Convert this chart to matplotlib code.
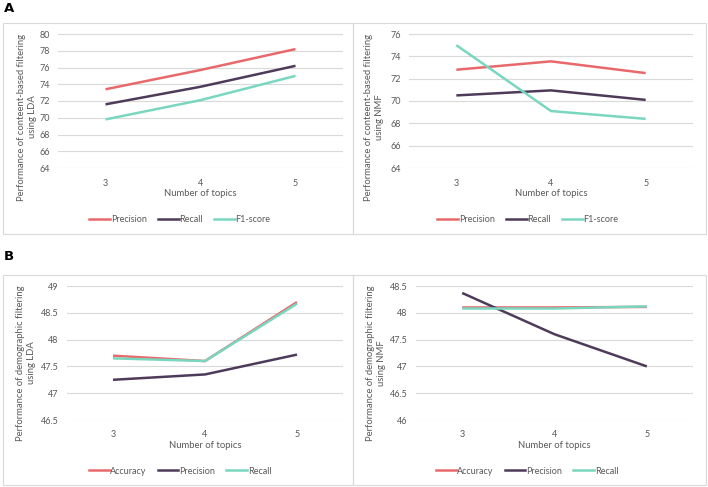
import matplotlib
matplotlib.use("Agg")
import matplotlib.pyplot as plt
from matplotlib.patches import Rectangle
from matplotlib.lines import Line2D

plt.rcParams['font.family'] = ['Lato', 'DejaVu Sans']

topics = [3, 4, 5]
tick_labels = ["3", "4", "5"]

# Panel A: content-based filtering
lda_cb_precision = [73.4, 75.7, 78.2]
lda_cb_recall = [71.6, 73.7, 76.2]
lda_cb_f1 = [69.8, 72.1, 75.0]

nmf_cb_precision = [72.8, 73.55, 72.5]
nmf_cb_recall = [70.5, 70.95, 70.1]
nmf_cb_f1 = [75.0, 69.1, 68.4]

# Panel B: demographic filtering
lda_dm_accuracy = [47.7, 47.6, 48.7]
lda_dm_precision = [47.25, 47.35, 47.72]
lda_dm_recall = [47.65, 47.6, 48.67]

nmf_dm_accuracy = [48.1, 48.1, 48.11]
nmf_dm_precision = [48.37, 47.6, 47.0]
nmf_dm_recall = [48.08, 48.08, 48.12]

RED = "#E8696B"
PURPLE = "#4E3B5A"
TEAL = "#7AD7BF"
TXT = "#595959"
GRID = "#D9D9D9"

W, H = 708, 487
fig = plt.figure(figsize=(W / 100, H / 100), dpi=100)

TICK_FS = 6.5
LAB_FS = 6.8
LEG_FS = 6.5


def px_axes(x0, y0, x1, y1):
    return fig.add_axes([x0 / W, 1 - y1 / H, (x1 - x0) / W, (y1 - y0) / H])


def box(x0, y0, x1, y1):
    fig.patches.append(Rectangle((x0 / W, 1 - y1 / H), (x1 - x0) / W, (y1 - y0) / H,
                                 transform=fig.transFigure, fill=False,
                                 edgecolor=GRID, linewidth=0.8))


def panel(ax, series, ylim, step, ylabel, fmt, ylab_dx, ylab_fy, xlab_dy, xtick_pad):
    for vals, color, name in series:
        ax.plot(topics, vals, color=color, linewidth=1.8, label=name,
                solid_capstyle='butt')
    ax.set_xlim(2.5, 5.5)
    ax.set_ylim(*ylim)
    n = int(round((ylim[1] - ylim[0]) / step))
    ticks = [ylim[0] + i * step for i in range(n + 1)]
    ax.set_yticks(ticks)
    ax.set_yticklabels([fmt(t) for t in ticks])
    ax.set_xticks(topics)
    ax.set_xticklabels(tick_labels)
    ax.grid(axis='y', color=GRID, linewidth=0.8)
    ax.set_axisbelow(True)
    for s in ax.spines.values():
        s.set_visible(False)
    ax.tick_params(length=0, labelsize=TICK_FS, colors=TXT, pad=6)
    ax.tick_params(axis='x', pad=xtick_pad)
    bb = ax.get_position()
    wpx = bb.width * W
    hpx = bb.height * H
    ax.set_xlabel("Number of topics", fontsize=LAB_FS, color=TXT)
    ax.xaxis.label.set_va('center')
    ax.xaxis.set_label_coords(0.5, -xlab_dy / hpx)
    ax.set_ylabel(ylabel, fontsize=LAB_FS, color=TXT, linespacing=1.15)
    ax.yaxis.label.set_va('center')
    ax.yaxis.set_label_coords(-ylab_dx / wpx, ylab_fy)


def legend(cx, cy, entries):
    handles = [Line2D([], [], color=c, linewidth=1.8) for _, c in entries]
    fig.legend(handles, [n for n, _ in entries], loc='center',
               bbox_to_anchor=(cx / W, 1 - cy / H), ncol=3, frameon=False,
               fontsize=LEG_FS, labelcolor=TXT, handlelength=2.3, handletextpad=0.1,
               columnspacing=1.2)


fmt_int = lambda v: f"{v:.0f}"
fmt_half = lambda v: (f"{v:.0f}" if abs(v - round(v)) < 1e-9 else f"{v:.1f}")

# Boxes
box(3, 23, 353, 234)
box(353, 23, 706, 234)
box(3, 275, 353, 485)
box(353, 275, 706, 485)

fig.text(4 / W, 1 - 9 / H, "A", fontsize=9.5, fontweight='bold', va='center', ha='left',
         family=['DejaVu Sans'])
fig.text(4 / W, 1 - 256 / H, "B", fontsize=9.5, fontweight='bold', va='center', ha='left',
         family=['DejaVu Sans'])

ax1 = px_axes(58, 34, 343, 168)
panel(ax1, [(lda_cb_precision, RED, "Precision"), (lda_cb_recall, PURPLE, "Recall"),
            (lda_cb_f1, TEAL, "F1-score")], (64, 80), 2,
      "Performance of conteent-based filtering\nusing LDA", fmt_int, 31, 0.38, 26, 8)

ax2 = px_axes(409, 34, 693, 168)
panel(ax2, [(nmf_cb_precision, RED, "Precision"), (nmf_cb_recall, PURPLE, "Recall"),
            (nmf_cb_f1, TEAL, "F1-score")], (64, 76), 2,
      "Performance of conteent-based filtering\nusing NMF", fmt_int, 35, 0.38, 26, 8)

ax3 = px_axes(67, 286, 343, 420)
panel(ax3, [(lda_dm_accuracy, RED, "Accuracy"), (lda_dm_precision, PURPLE, "Precision"),
            (lda_dm_recall, TEAL, "Recall")], (46.5, 49), 0.5,
      "Performance of demographic filtering\nusing LDA", fmt_half, 41, 0.425, 25, 7)

ax4 = px_axes(416, 286, 693, 420)
panel(ax4, [(nmf_dm_accuracy, RED, "Accuracy"), (nmf_dm_precision, PURPLE, "Precision"),
            (nmf_dm_recall, TEAL, "Recall")], (46, 48.5), 0.5,
      "Performance of demographic filtering\nusing NMF", fmt_half, 40, 0.425, 25, 7)

legend(180, 220, [("Precision", RED), ("Recall", PURPLE), ("F1-score", TEAL)])
legend(528, 220, [("Precision", RED), ("Recall", PURPLE), ("F1-score", TEAL)])
legend(180, 471, [("Accuracy", RED), ("Precision", PURPLE), ("Recall", TEAL)])
legend(527, 471, [("Accuracy", RED), ("Precision", PURPLE), ("Recall", TEAL)])

fig.savefig("out.png", dpi=100, facecolor='white')
